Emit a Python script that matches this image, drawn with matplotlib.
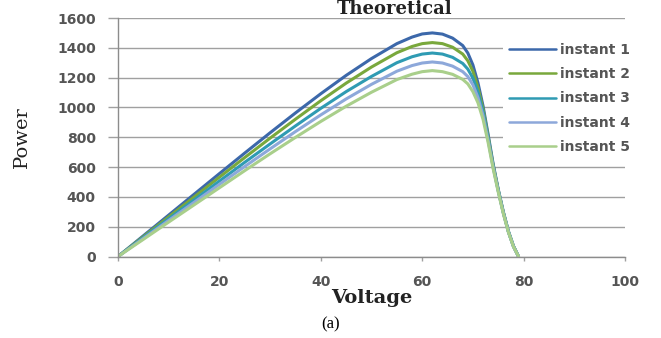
import matplotlib
matplotlib.use("Agg")
import matplotlib.pyplot as plt

# PV power curves, one per instant
voltage = [0, 5, 10, 15, 20, 25, 30, 35, 40, 45, 50, 55, 58, 60, 62, 64, 66,
           68, 69, 70, 71, 72, 73, 74, 75, 76, 77, 78, 79]
instant_1 = [0, 139, 278, 417, 556, 694, 830, 963, 1092, 1215, 1328, 1428, 1472,
             1493, 1500, 1492, 1465, 1415, 1365, 1285, 1165, 1010, 820, 620, 450,
             300, 170, 70, 0]
instant_2 = [0, 133, 266, 399, 532, 664, 794, 921, 1045, 1163, 1271, 1367, 1409,
             1428, 1435, 1428, 1404, 1358, 1313, 1243, 1133, 990, 805, 612, 446,
             297, 168, 69, 0]
instant_3 = [0, 127, 253, 379, 506, 632, 755, 876, 994, 1106, 1208, 1300, 1340,
             1358, 1365, 1358, 1336, 1295, 1257, 1197, 1102, 970, 793, 604, 442,
             294, 167, 68, 0]
instant_4 = [0, 121, 242, 363, 484, 604, 722, 838, 950, 1057, 1155, 1243, 1281,
             1298, 1305, 1298, 1277, 1240, 1207, 1152, 1066, 945, 780, 597, 438,
             291, 165, 67, 0]
instant_5 = [0, 115, 231, 346, 461, 576, 689, 799, 906, 1008, 1102, 1187, 1223,
             1240, 1247, 1240, 1222, 1188, 1158, 1106, 1031, 920, 765, 588, 432,
             288, 163, 66, 0]

series = [instant_1, instant_2, instant_3, instant_4, instant_5]
labels = ["instant 1", "instant 2", "instant 3", "instant 4", "instant 5"]
colors = ["#3c68aa", "#79a83c", "#2f9bb3", "#8da8da", "#a9cf8b"]

fig = plt.figure(figsize=(6.61, 3.38), dpi=100)
ax = fig.add_axes([118 / 661, 1 - 256.5 / 338, (625 - 118) / 661, (256.5 - 18) / 338])

for vals, lab, col in zip(series, labels, colors):
    ax.plot(voltage, vals, color=col, lw=2.2, label=lab, solid_capstyle="round",
            solid_joinstyle="round")

ax.set_xlim(0, 100)
ax.set_ylim(0, 1600)
ax.set_xticks(range(0, 101, 20))
ax.set_yticks(range(0, 1601, 200))
ax.grid(axis="y", color="#a0a0a0", lw=1.0)
ax.set_axisbelow(True)

for side in ["top", "right"]:
    ax.spines[side].set_visible(False)
for side in ["left", "bottom"]:
    ax.spines[side].set_color("#8c8c8c")
    ax.spines[side].set_linewidth(1.0)

ax.tick_params(axis="y", length=7, width=1.0, color="#a0a0a0", pad=9,
               labelsize=10, labelcolor="#555555")
ax.tick_params(axis="x", length=3, width=1.0, color="#a0a0a0", pad=10,
               labelsize=10, labelcolor="#555555")
for t in ax.get_xticklabels() + ax.get_yticklabels():
    t.set_fontweight("bold")

ax.set_xlabel("Voltage", family="DejaVu Serif", fontweight="bold",
              fontsize=14, labelpad=0, color="#222222")
ax.set_ylabel("Power", family="DejaVu Serif", fontsize=14, color="#222222")
ax.yaxis.set_label_coords((31 - 118) / 507, 0.5)

fig.text(395 / 661, 1 - 9 / 338, "Theoretical", family="DejaVu Serif",
         fontweight="bold", fontsize=13, ha="center", va="center", color="#222222")
fig.text(331 / 661, 1 - 324 / 338, "(a)", family="Liberation Serif",
         fontsize=12, ha="center", va="center", color="black")

leg = ax.legend(loc="upper left", bbox_to_anchor=(503 / 661, 1 - 37 / 338),
                bbox_transform=fig.transFigure, borderaxespad=0, borderpad=0.4,
                handlelength=3.4, handletextpad=0.3, labelspacing=0.75,
                frameon=True, fancybox=False, prop={"size": 10, "weight": "bold"})
leg.get_frame().set_facecolor("white")
leg.get_frame().set_edgecolor("none")
leg.get_frame().set_alpha(1.0)
for txt in leg.get_texts():
    txt.set_color("#555555")
for line in leg.get_lines():
    line.set_linewidth(1.8)

fig.savefig("out.png", dpi=100)
